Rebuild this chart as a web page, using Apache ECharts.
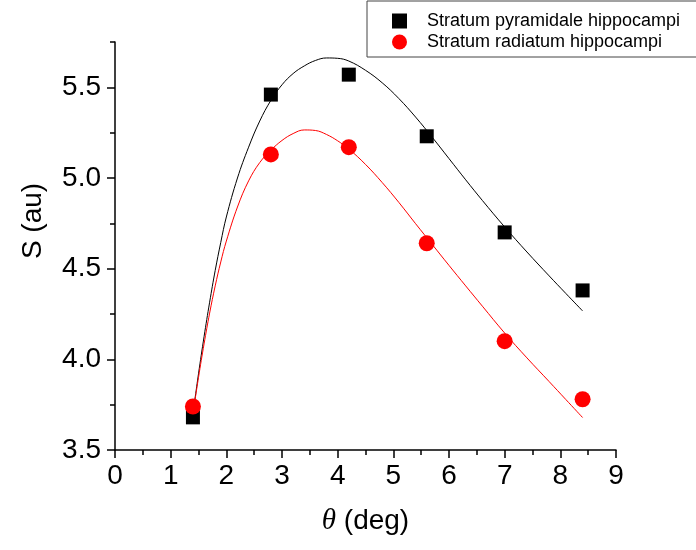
<!DOCTYPE html>
<html>
<head>
<meta charset="utf-8">
<title>S vs theta</title>
<script src="https://cdn.jsdelivr.net/npm/echarts@6/dist/echarts.min.js"></script>
<style>
  html, body { margin: 0; padding: 0; background: #fff; }
  #chart { width: 696px; height: 550px; }
</style>
</head>
<body>
<div id="chart"></div>
<script>
// Measured points
const thetaDeg = [1.4, 2.8, 4.2, 5.6, 7.0, 8.4];
const pyramidale = [3.68, 5.46, 5.57, 5.23, 4.70, 4.38];
const radiatum = [3.74, 5.13, 5.17, 4.64, 4.10, 3.78];

// Fitted curves, sampled along theta
const fitPyrTheta = [1.4, 1.5, 1.6, 1.7, 1.8, 1.9, 2.0, 2.2, 2.4, 2.6, 2.8, 3.0, 3.2, 3.4, 3.6, 3.8, 4.0, 4.2, 4.5, 4.8, 5.1, 5.4, 5.7, 6.0, 6.3, 6.6, 7.0, 7.4, 7.8, 8.1, 8.4];
const fitPyrS     = [3.70, 3.92, 4.125, 4.315, 4.49, 4.645, 4.785, 5.0, 5.17, 5.314, 5.428, 5.514, 5.576, 5.618, 5.648, 5.662, 5.66, 5.645, 5.594, 5.525, 5.438, 5.336, 5.224, 5.107, 4.99, 4.876, 4.73, 4.592, 4.46, 4.363, 4.267];
const fitRadTheta = [1.4, 1.5, 1.6, 1.7, 1.8, 1.9, 2.0, 2.2, 2.4, 2.6, 2.8, 3.0, 3.2, 3.4, 3.6, 3.8, 4.0, 4.2, 4.5, 4.8, 5.1, 5.4, 5.7, 6.0, 6.3, 6.6, 7.0, 7.4, 7.8, 8.1, 8.4];
const fitRadS     = [3.70, 3.90, 4.085, 4.255, 4.405, 4.537, 4.652, 4.84, 4.984, 5.085, 5.153, 5.207, 5.245, 5.265, 5.262, 5.24, 5.205, 5.16, 5.075, 4.975, 4.865, 4.748, 4.633, 4.518, 4.405, 4.293, 4.145, 4.008, 3.877, 3.778, 3.679];

// Axis ticks
const xTickValues = [0, 1, 2, 3, 4, 5, 6, 7, 8, 9];
const yMajorTicks = [3.5, 4.0, 4.5, 5.0, 5.5];
const yMinorTicks = [3.75, 4.25, 4.75, 5.25, 5.75];

const seriesNames = ['Stratum pyramidale hippocampi', 'Stratum radiatum hippocampi'];

const zip = (xs, ys) => xs.map((x, i) => [x, ys[i]]);

const FONT = "'Liberation Sans', Arial, sans-serif";
const axisColor = '#000';

const chart = echarts.init(document.getElementById('chart'), null, { renderer: 'canvas' });

chart.setOption({
  backgroundColor: '#fff',
  animation: false,
  grid: { left: 115, right: 80, top: 42, bottom: 100, containLabel: false },
  legend: {
    orient: 'vertical',
    left: 367,
    top: 1,
    align: 'left',
    padding: [11, 20, 6, 25],
    itemWidth: 15,
    itemHeight: 15,
    itemGap: 3,
    borderColor: '#444',
    borderWidth: 1,
    data: seriesNames,
    textStyle: { fontFamily: FONT, fontSize: 18, color: '#000', lineHeight: 18, padding: [0, 0, 0, 15] }
  },
  xAxis: {
    type: 'value',
    min: 0,
    max: 9,
    interval: 1,
    name: '{t|θ} (deg)',
    nameLocation: 'middle',
    nameGap: 57,
    nameTextStyle: {
      fontFamily: FONT, fontSize: 28, color: '#000',
      rich: { t: { fontFamily: "'Liberation Serif', 'Times New Roman', serif", fontStyle: 'italic', fontSize: 29, color: '#000' } }
    },
    axisLine: { show: true, onZero: false, lineStyle: { color: axisColor, width: 1.5 } },
    axisTick: { show: true, inside: false, length: 8, lineStyle: { color: axisColor, width: 1.5 } },
    minorTick: { show: true, splitNumber: 2, length: 5, lineStyle: { color: axisColor, width: 1.5 } },
    splitLine: { show: false },
    minorSplitLine: { show: false },
    axisLabel: {
      margin: 12,
      fontFamily: FONT, fontSize: 28, color: '#000',
      customValues: xTickValues,
      formatter: v => String(v)
    }
  },
  yAxis: [
    {
      type: 'value',
      min: 3.5,
      max: 5.75,
      name: 'S (au)',
      nameLocation: 'middle',
      nameGap: 68,
      nameRotate: 90,
      nameTextStyle: { fontFamily: FONT, fontSize: 28, color: '#000', padding: [0, 0, 0, 50] },
      axisLine: { show: true, onZero: false, lineStyle: { color: axisColor, width: 1.5 } },
      axisTick: { show: true, inside: false, length: 8, customValues: yMajorTicks, lineStyle: { color: axisColor, width: 1.5 } },
      splitLine: { show: false },
      axisLabel: {
        margin: 14,
        fontFamily: FONT, fontSize: 28, color: '#000',
        customValues: yMajorTicks,
        formatter: v => v.toFixed(1)
      }
    },
    {
      // minor ticks on the same scale
      type: 'value',
      min: 3.5,
      max: 5.75,
      position: 'left',
      axisLine: { show: false },
      axisTick: { show: true, inside: false, length: 5, customValues: yMinorTicks, lineStyle: { color: axisColor, width: 1.5 } },
      axisLabel: { show: false },
      splitLine: { show: false }
    }
  ],
  series: [
    {
      name: 'pyramidale fit',
      type: 'line',
      data: zip(fitPyrTheta, fitPyrS),
      smooth: 0.4,
      showSymbol: false,
      lineStyle: { color: '#000', width: 1 },
      z: 2,
      silent: true
    },
    {
      name: 'radiatum fit',
      type: 'line',
      data: zip(fitRadTheta, fitRadS),
      smooth: 0.4,
      showSymbol: false,
      lineStyle: { color: '#ff0000', width: 1 },
      z: 2,
      silent: true
    },
    {
      name: seriesNames[0],
      type: 'scatter',
      data: zip(thetaDeg, pyramidale),
      symbol: 'rect',
      symbolSize: 14,
      itemStyle: { color: '#000', opacity: 1 },
      z: 4
    },
    {
      name: seriesNames[1],
      type: 'scatter',
      data: zip(thetaDeg, radiatum),
      symbol: 'circle',
      symbolSize: 16,
      itemStyle: { color: '#ff0000', opacity: 1 },
      z: 5
    }
  ]
});
</script>
</body>
</html>
